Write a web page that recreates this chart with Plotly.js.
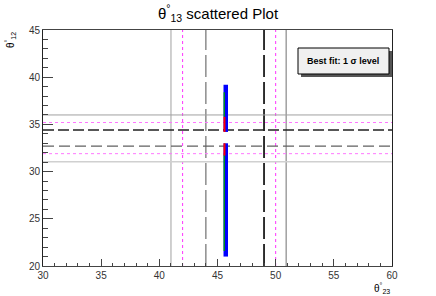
<!DOCTYPE html>
<html>
<head>
<meta charset="utf-8">
<script src="https://cdn.plot.ly/plotly-3.0.1.min.js"></script>
<style>
  body { margin: 0; padding: 0; background: #fff; }
  #thfig { width: 436px; height: 296px; }
</style>
</head>
<body>
<div id="thfig"></div>
<script>
// scatter band of theta23 vs theta12 (segments split at the gap)
var blue_x = [45.71, 45.71, null, 45.71, 45.71];
var blue_y = [21.0, 33.0, null, 34.2, 39.2];
var green_x = [45.58, 45.58, null, 45.58, 45.58];
var green_y = [21.6, 31.8, null, 35.8, 38.4];
var red_x = [45.6, 45.6, null, 45.6, 45.6];
var red_y = [31.7, 33.0, null, 34.2, 35.8];

// reference lines
var vgray = [41.0, 50.9];
var vpink = [42.0, 50.0];
var vdash = [44.0];
var vblack = [49.0];
var hgray = [36.0, 31.05];
var hpink = [35.2, 31.9];
var hdash = [32.7];
var hblack = [34.4];

var xticks = [30, 35, 40, 45, 50, 55, 60];
var yticks = [20, 25, 30, 35, 40, 45];

function vline(v, color, dash, width) {
  return { type: 'line', xref: 'x', yref: 'paper', x0: v, x1: v, y0: 0, y1: 1,
    line: { color: color, dash: dash, width: width }, layer: 'below' };
}
function hline(v, color, dash, width) {
  return { type: 'line', xref: 'paper', yref: 'y', x0: 0, x1: 1, y0: v, y1: v,
    line: { color: color, dash: dash, width: width }, layer: 'below' };
}

var shapes = [];
shapes.push(vline(vgray[0], '#a0a0a0', 'solid', 1));
shapes.push(vline(vgray[1], '#707070', 'solid', 1));
vpink.forEach(function (v) { shapes.push(vline(v, '#ff33ff', 'dot', 1)); });
vdash.forEach(function (v) { shapes.push(vline(v, '#707070', '22px,5px', 1.2)); });
vblack.forEach(function (v) { shapes.push(vline(v, '#000000', '22px,5px', 1.6)); });
shapes.push(hline(hgray[0], '#a0a0a0', 'solid', 1));
shapes.push(hline(hgray[1], '#d0d0d0', 'solid', 1.5));
hpink.forEach(function (v) { shapes.push(hline(v, '#ff77ff', 'dot', 1)); });
hdash.forEach(function (v) { shapes.push(hline(v, '#606060', '11px,5px', 1.2)); });
hblack.forEach(function (v) { shapes.push(hline(v, '#202020', '11px,4px', 1.6)); });

// legend box (shadow + box)
shapes.push({ type: 'rect', xref: 'paper', yref: 'paper', x0: 0.7393, x1: 1.0, y0: 0.8008, y1: 0.911,
  line: { width: 0 }, fillcolor: '#555555' });
shapes.push({ type: 'rect', xref: 'paper', yref: 'paper', x0: 0.7307, x1: 0.9914, y0: 0.8136, y1: 0.9237,
  line: { color: '#000', width: 1 }, fillcolor: '#f0f0f0' });

var data = [
  { x: blue_x, y: blue_y, mode: 'lines', type: 'scatter', line: { color: '#0000ff', width: 4.5 },
    hoverinfo: 'none', showlegend: false },
  { x: green_x, y: green_y, mode: 'lines', type: 'scatter', line: { color: '#00a000', width: 1.3 },
    hoverinfo: 'none', showlegend: false },
  { x: red_x, y: red_y, mode: 'lines', type: 'scatter', line: { color: '#ff0000', width: 2 },
    hoverinfo: 'none', showlegend: false }
];

var tickfont = { family: 'Liberation Sans, Arial, sans-serif', size: 10, color: '#333' };

var layout = {
  width: 436, height: 296,
  margin: { l: 43, r: 44, t: 30, b: 30, pad: 0 },
  paper_bgcolor: '#fff', plot_bgcolor: '#fff',
  showlegend: false,
  title: {
    text: 'θ<sup>°</sup><sub>13</sub> scattered Plot',
    font: { family: 'Liberation Sans, Arial, sans-serif', size: 15, color: '#000' },
    x: 0.5, xanchor: 'center', y: 0.955, yanchor: 'middle'
  },
  xaxis: {
    range: [30, 60], tickvals: xticks, ticktext: xticks.map(String),
    ticks: 'inside', ticklen: 7, tickcolor: '#444', tickwidth: 1,
    minor: { dtick: 1, ticks: 'inside', ticklen: 3.5, tickcolor: '#444', showgrid: false },
    showgrid: false, zeroline: false,
    showline: true, linecolor: '#444', linewidth: 1, mirror: true,
    tickfont: tickfont
  },
  yaxis: {
    range: [20, 45], tickvals: yticks, ticktext: yticks.map(String),
    ticks: 'inside', ticklen: 10, tickcolor: '#444', tickwidth: 1,
    minor: { dtick: 1, ticks: 'inside', ticklen: 5, tickcolor: '#444', showgrid: false },
    showgrid: false, zeroline: false,
    showline: true, linecolor: '#222', linewidth: 1, mirror: true,
    tickfont: tickfont
  },
  shapes: shapes,
  annotations: [
    { xref: 'paper', yref: 'paper', x: 0.861, y: 0.8687, xanchor: 'center', yanchor: 'middle',
      text: '<b>Best fit: 1 σ level</b>', showarrow: false,
      font: { family: 'Liberation Sans, Arial, sans-serif', size: 9, color: '#000' } },
    { xref: 'paper', yref: 'paper', x: 1.0, y: -0.06, xanchor: 'right', yanchor: 'top',
      text: 'θ<sup>°</sup><sub>23</sub>', showarrow: false,
      font: { family: 'Liberation Sans, Arial, sans-serif', size: 10, color: '#000' } },
    { xref: 'paper', yref: 'paper', x: -0.07, y: 1.0, xanchor: 'right', yanchor: 'top',
      text: 'θ<sup>°</sup><sub>12</sub>', showarrow: false, textangle: -90,
      font: { family: 'Liberation Sans, Arial, sans-serif', size: 10, color: '#000' } }
  ]
};

Plotly.newPlot('thfig', data, layout, { staticPlot: true, displayModeBar: false });
</script>
</body>
</html>
